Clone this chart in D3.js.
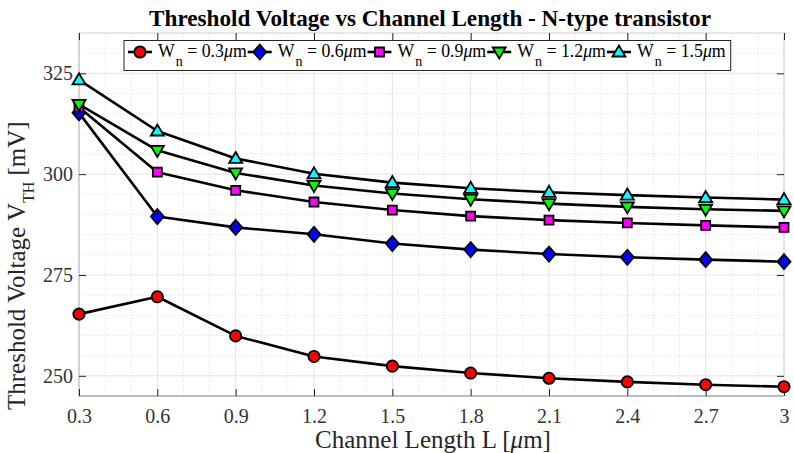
<!DOCTYPE html>
<html>
<head>
<meta charset="utf-8">
<script src="https://cdn.jsdelivr.net/npm/d3@7"></script>
<style>
  html, body { margin: 0; padding: 0; background: #fff; }
  svg { display: block; }
  svg text { font-family: "Liberation Serif", "DejaVu Serif", serif !important; }
</style>
</head>
<body>
<svg id="chart" width="794" height="453"></svg>
<script>
// ---- data ----
const channelLength = [0.3, 0.6, 0.9, 1.2, 1.5, 1.8, 2.1, 2.4, 2.7, 3.0];
const vth_w03 = [265.3, 269.6, 259.9, 254.8, 252.4, 250.7, 249.4, 248.5, 247.8, 247.3];
const vth_w06 = [315.2, 289.5, 286.8, 285.1, 282.8, 281.3, 280.2, 279.4, 278.8, 278.3];
const vth_w09 = [316.6, 300.5, 296.0, 293.1, 291.1, 289.6, 288.6, 287.9, 287.3, 286.8];
const vth_w12 = [317.3, 305.9, 300.3, 297.2, 295.2, 293.8, 292.7, 291.9, 291.3, 290.9];
const vth_w15 = [323.4, 310.7, 303.9, 300.1, 297.9, 296.5, 295.5, 294.8, 294.2, 293.7];
const widthLabels = ["0.3", "0.6", "0.9", "1.2", "1.5"];
const xTickValues = [0.3, 0.6, 0.9, 1.2, 1.5, 1.8, 2.1, 2.4, 2.7, 3];
const yTickValues = [250, 275, 300, 325];
const xDomain = [0.3, 3];
const yDomain = [245, 335];

const seriesValues = [vth_w03, vth_w06, vth_w09, vth_w12, vth_w15];
const markerColors = ["#ff0000", "#0000ff", "#ff00ff", "#00ff00", "#00ffff"];
const markerKinds = ["circle", "diamond", "square", "triDown", "triUp"];

(function () {
const FONT = '"Liberation Serif", serif';
// ---- layout ----
const svg = d3.select("#chart");
const pL = 79, pR = 784, pT = 33, pB = 396;
const x = d3.scaleLinear().domain(xDomain).range([pL, pR]);
const y = d3.scaleLinear().domain(yDomain).range([pB, pT]);

// minor grid
const xMinor = d3.range(3, 31).map(i => i / 10).filter((v, i) => i % 3 !== 0);
const yMinor = d3.range(yDomain[0], yDomain[1] + 0.1, 5).filter(v => !yTickValues.includes(v));
const grid = svg.append("g");
grid.selectAll(".xm").data(xMinor).join("line")
  .attr("x1", d => x(d)).attr("x2", d => x(d)).attr("y1", pT).attr("y2", pB)
  .attr("stroke", "#d6d6d6").attr("stroke-width", 0.8).attr("stroke-dasharray", "1,2");
grid.selectAll(".ym").data(yMinor).join("line")
  .attr("y1", d => y(d)).attr("y2", d => y(d)).attr("x1", pL).attr("x2", pR)
  .attr("stroke", "#d6d6d6").attr("stroke-width", 0.8).attr("stroke-dasharray", "1,2");
// major grid
grid.selectAll(".xM").data(xTickValues).join("line")
  .attr("x1", d => x(d)).attr("x2", d => x(d)).attr("y1", pT).attr("y2", pB)
  .attr("stroke", "#e3e3e3").attr("stroke-width", 1);
grid.selectAll(".yM").data(yTickValues).join("line")
  .attr("y1", d => y(d)).attr("y2", d => y(d)).attr("x1", pL).attr("x2", pR)
  .attr("stroke", "#e3e3e3").attr("stroke-width", 1);

// box
svg.append("rect").attr("x", pL).attr("y", pT).attr("width", pR - pL).attr("height", pB - pT)
  .attr("fill", "none").attr("stroke", "#d4d4d4").attr("stroke-width", 1);
svg.append("line").attr("x1", pL).attr("x2", pR).attr("y1", pB).attr("y2", pB)
  .attr("stroke", "#bdbdbd").attr("stroke-width", 2);
svg.append("line").attr("x1", pL).attr("x2", pL).attr("y1", pT).attr("y2", pB)
  .attr("stroke", "#c8c8c8").attr("stroke-width", 1.2);

// axes with d3 axis generators (ticks inward)
const tickFmt = d => String(+d.toFixed(1));
const xAxis = svg.append("g").attr("transform", `translate(0,${pB})`)
  .call(d3.axisBottom(x).tickValues(xTickValues).tickFormat(tickFmt).tickSizeInner(-7).tickSizeOuter(0).tickPadding(13));
const xAxisTop = svg.append("g").attr("transform", `translate(0,${pT})`)
  .call(d3.axisTop(x).tickValues(xTickValues).tickFormat("").tickSizeInner(-7).tickSizeOuter(0));
const yAxis = svg.append("g").attr("transform", `translate(${pL},0)`)
  .call(d3.axisLeft(y).tickValues(yTickValues).tickSizeInner(-7).tickSizeOuter(0).tickPadding(14));
const yAxisRight = svg.append("g").attr("transform", `translate(${pR},0)`)
  .call(d3.axisRight(y).tickValues(yTickValues).tickFormat("").tickSizeInner(-7).tickSizeOuter(0));
[xAxis, xAxisTop, yAxis, yAxisRight].forEach(g => {
  g.select(".domain").remove();
  g.attr("font-family", FONT).attr("font-size", 20);
  g.selectAll(".tick line").attr("stroke", "#262626").attr("stroke-width", 1);
  g.selectAll(".tick text").attr("fill", "#333333");
});
xAxis.selectAll(".tick text").attr("dy", "0.71em");
yAxis.selectAll(".tick text").attr("x", -6);

// marker paths
function markerPath(kind) {
  switch (kind) {
    case "circle": return d3.symbol(d3.symbolCircle, 100)();
    case "diamond": return "M0,-7.5L6.5,0L0,7.5L-6.5,0Z";
    case "square": return "M-4.5,-4.5H4.5V4.5H-4.5Z";
    case "triDown": return "M-6.5,-4.5H6.5L0,6.5Z";
    case "triUp": return "M-6.5,4.5H6.5L0,-6.5Z";
  }
}

// series
const line = d3.line().x(d => x(d[0])).y(d => y(d[1]));
seriesValues.forEach((vals, si) => {
  const pts = channelLength.map((L, i) => [L, vals[i]]);
  const g = svg.append("g");
  g.append("path").datum(pts).attr("d", line)
    .attr("fill", "none").attr("stroke", "#000").attr("stroke-width", 2.6).attr("stroke-linejoin", "round");
  g.selectAll("path.m").data(pts).join("path").attr("class", "m")
    .attr("transform", d => `translate(${x(d[0])},${y(d[1])})`)
    .attr("d", markerPath(markerKinds[si]))
    .attr("fill", markerColors[si]).attr("stroke", "#000").attr("stroke-width", 1.8);
});

// legend
const legend = svg.append("g");
const legRect = legend.append("rect").attr("fill", "#fff").attr("stroke", "#262626").attr("stroke-width", 1);
let cx = 128;
const lineY = 52, textY = 56.5;
widthLabels.forEach((lab, i) => {
  legend.append("line").attr("x1", cx).attr("x2", cx + 24).attr("y1", lineY).attr("y2", lineY)
    .attr("stroke", "#000").attr("stroke-width", 2.6);
  legend.append("path").attr("transform", `translate(${cx + 12},${lineY})`)
    .attr("d", markerPath(markerKinds[i]))
    .attr("fill", markerColors[i]).attr("stroke", "#000").attr("stroke-width", 1.8);
  const t = legend.append("text").attr("x", cx + 30).attr("y", textY)
    .attr("font-family", FONT).attr("font-size", 17.8).attr("fill", "#000");
  t.append("tspan").text("W");
  t.append("tspan").attr("dx", 1).attr("dy", 9).attr("font-size", 14).text("n");
  t.append("tspan").attr("dy", -9).text(` = ${lab}`);
  t.append("tspan").attr("font-style", "italic").text("μ");
  t.append("tspan").text("m");
  const len = t.node().getComputedTextLength();
  cx = cx + 30 + len + 2;
});
legRect.attr("x", 124).attr("y", 40.5).attr("width", cx - 124 + 4).attr("height", 30);

// title
svg.append("text").attr("x", 430).attr("y", 26).attr("text-anchor", "middle")
  .attr("font-family", FONT).attr("font-size", 23.2).attr("font-weight", "bold").attr("fill", "#000")
  .text("Threshold Voltage vs Channel Length - N-type transistor");

// x label
const xl = svg.append("text").attr("x", 433).attr("y", 448).attr("text-anchor", "middle")
  .attr("font-family", FONT).attr("font-size", 25).attr("fill", "#262626");
xl.append("tspan").text("Channel Length L [");
xl.append("tspan").attr("font-style", "italic").text("μ");
xl.append("tspan").text("m]");

// y label
const yl = svg.append("text").attr("transform", "translate(25,410) rotate(-90)")
  .attr("font-family", FONT).attr("font-size", 25).attr("fill", "#262626");
yl.append("tspan").text("Threshold Voltage V");
yl.append("tspan").attr("dy", 9).attr("font-size", 16).text("TH");
yl.append("tspan").attr("dy", -9).text(" [mV]");
})();
</script>
</body>
</html>
